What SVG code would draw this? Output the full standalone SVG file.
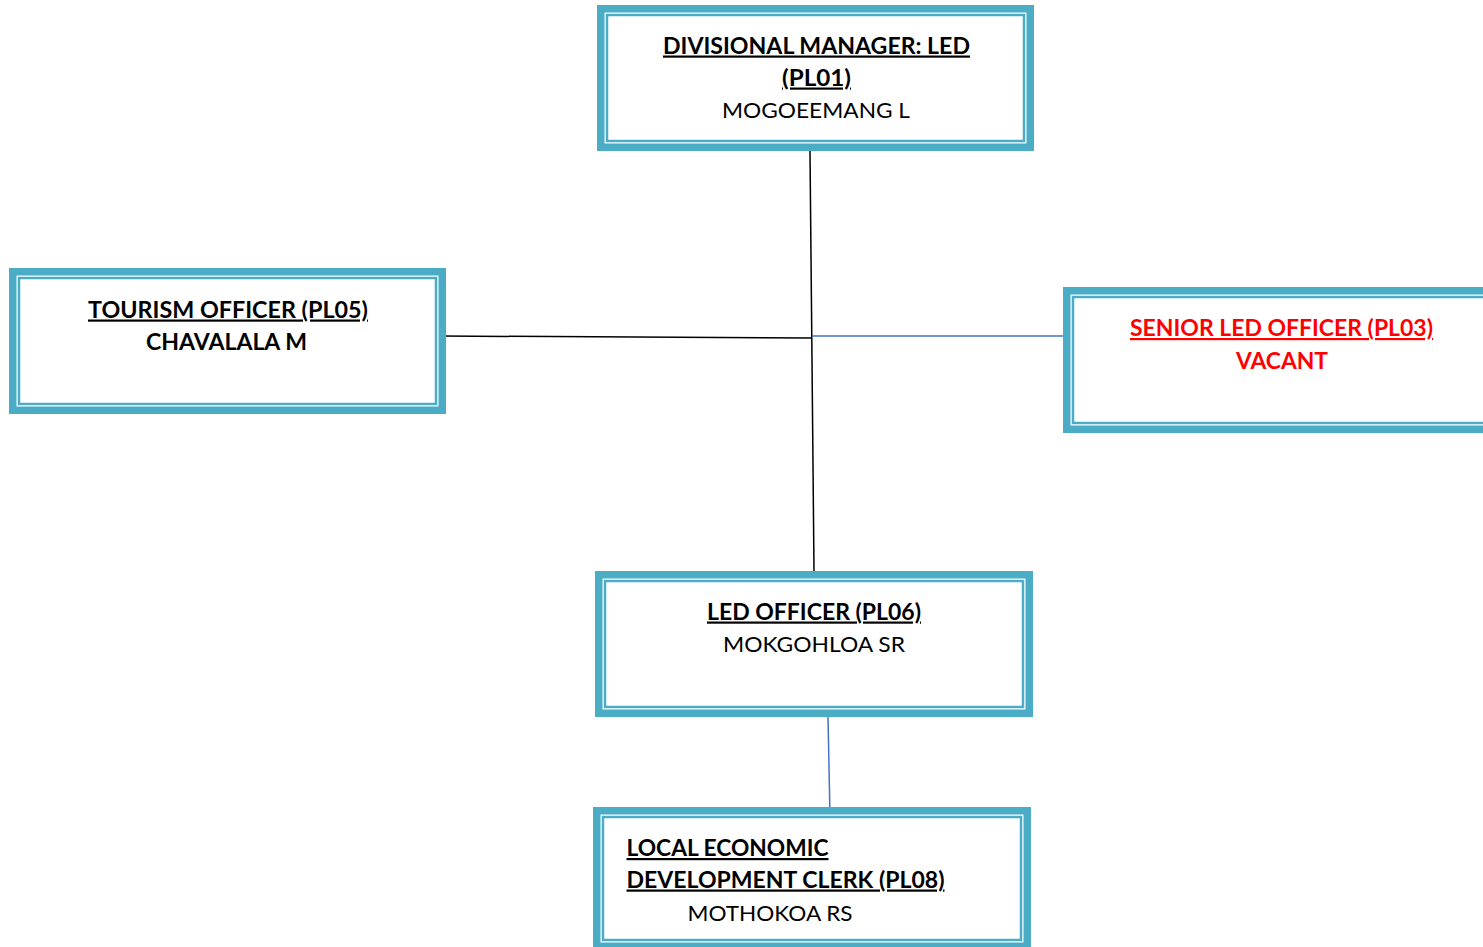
<svg xmlns="http://www.w3.org/2000/svg" width="1483" height="947" viewBox="0 0 1483 947">
<style>
.thick{fill:#fff;stroke:#4BACC6;stroke-width:7.5}
.thin{fill:none;stroke:#4BACC6;stroke-width:2.5}
.t{font-family:Lato,"Liberation Sans",sans-serif;font-size:22px;fill:#000}
.b{font-weight:bold}
.u{text-decoration:underline}
.red{fill:#FF0000}
.c{fill:none;stroke-width:1.5}
.k{stroke:#000}
.bl{stroke:#4472C4}
</style>
<rect width="1483" height="947" fill="#fff"/>
<g id="connectors">
<path class="c k" d="M810,151 L814,571"/>
<path class="c k" d="M440,336 L812,338"/>
<path class="c bl" d="M812,336 L1067,336"/>
<path class="c bl" d="M828,717 L830,817"/>
</g>
<g id="divisional-manager">
<rect class="thick" x="600.75" y="8.75" width="429.5" height="138.5"/>
<rect class="thin" x="607" y="15" width="417" height="126"/>
<text class="t b u" x="663" y="53.5" textLength="307" lengthAdjust="spacingAndGlyphs">DIVISIONAL MANAGER: LED</text>
<text class="t b u" x="782" y="85.5" textLength="69" lengthAdjust="spacingAndGlyphs">(PL01)</text>
<text class="t" x="722" y="117.5" textLength="188" lengthAdjust="spacingAndGlyphs">MOGOEEMANG L</text>
</g>
<g id="tourism-officer">
<rect class="thick" x="12.75" y="271.75" width="429.5" height="138.5"/>
<rect class="thin" x="19" y="278" width="417" height="126"/>
<text class="t b u" x="88" y="317.5" textLength="280" lengthAdjust="spacingAndGlyphs">TOURISM OFFICER (PL05)</text>
<text class="t b" x="146" y="350" textLength="161" lengthAdjust="spacingAndGlyphs">CHAVALALA M</text>
</g>
<g id="senior-led-officer">
<rect class="thick" x="1066.75" y="290.75" width="429.5" height="138.5"/>
<rect class="thin" x="1073" y="297" width="417" height="126"/>
<text class="t b u red" x="1130" y="336" textLength="303" lengthAdjust="spacingAndGlyphs">SENIOR LED OFFICER (PL03)</text>
<text class="t b red" x="1236" y="369" textLength="92" lengthAdjust="spacingAndGlyphs">VACANT</text>
</g>
<g id="led-officer">
<rect class="thick" x="598.75" y="574.75" width="430.5" height="138.5"/>
<rect class="thin" x="605" y="581" width="418" height="126"/>
<text class="t b u" x="707" y="619.5" textLength="214" lengthAdjust="spacingAndGlyphs">LED OFFICER (PL06)</text>
<text class="t" x="723" y="652" textLength="182" lengthAdjust="spacingAndGlyphs">MOKGOHLOA SR</text>
</g>
<g id="led-clerk">
<rect class="thick" x="596.75" y="810.75" width="430.5" height="135.5"/>
<rect class="thin" x="603" y="817" width="418" height="123"/>
<text class="t b u" x="626.5" y="856" textLength="202" lengthAdjust="spacingAndGlyphs">LOCAL ECONOMIC</text>
<text class="t b u" x="626.5" y="887.5" textLength="318" lengthAdjust="spacingAndGlyphs">DEVELOPMENT CLERK (PL08)</text>
<text class="t" x="687.5" y="920.5" textLength="165" lengthAdjust="spacingAndGlyphs">MOTHOKOA RS</text>
</g>
</svg>
